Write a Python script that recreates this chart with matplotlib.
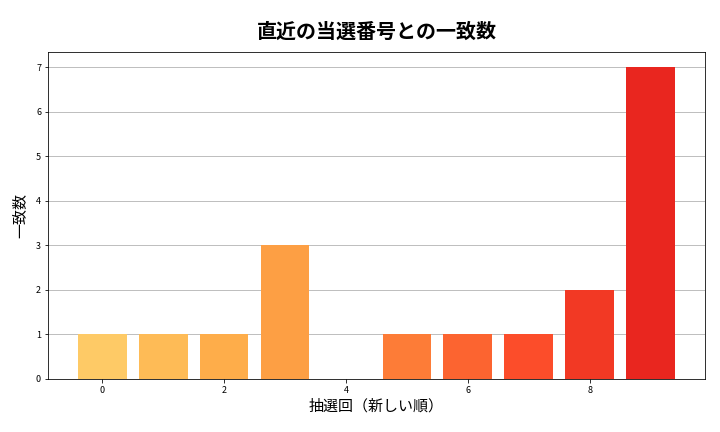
import numpy as np
import matplotlib
matplotlib.use("Agg")
import matplotlib.pyplot as plt

plt.rcParams['font.family'] = ['Noto Sans CJK JP', 'DejaVu Sans']

draws = np.arange(10)
matches = [1, 1, 1, 3, 0, 1, 1, 1, 2, 7]

colors = plt.cm.YlOrRd(np.linspace(0.3, 0.72, len(draws)))

fig, ax = plt.subplots(figsize=(10, 6), dpi=72)
ax.bar(draws, matches, color=colors, width=0.8, zorder=2)
ax.grid(axis='y', color='#b0b0b0', linewidth=0.8, zorder=0)
ax.set_title('直近の当選番号との一致数', fontsize=20, fontweight='bold', pad=14)
ax.set_xlabel('抽選回（新しい順）', fontsize=15, labelpad=4)
ax.set_ylabel('一致数', fontsize=15, labelpad=8)
ax.tick_params(labelsize=9)
plt.subplots_adjust(left=0.0667, right=0.979, top=0.88, bottom=0.123)
plt.savefig('out.png')
